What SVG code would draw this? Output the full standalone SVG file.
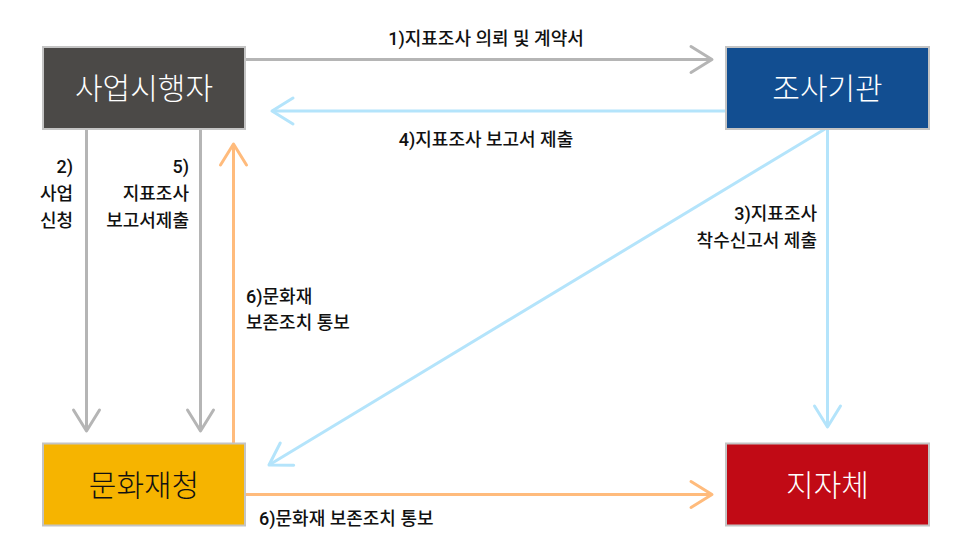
<svg xmlns="http://www.w3.org/2000/svg" width="971" height="556" viewBox="0 0 971 556">
<style>
.node{stroke:#c4c4c4;stroke-width:2}
.nt{font-family:"Noto Sans CJK KR","Noto Sans",sans-serif;font-size:30px;font-weight:300;text-anchor:middle}
.lb{font-family:Roboto,"Noto Sans CJK KR","Noto Sans",sans-serif;font-size:18px;font-weight:500;fill:#111}
.r{text-anchor:end}
.m{text-anchor:middle}
.ln{fill:none;stroke-width:3}
.gray{stroke:#b5b5b5}
.blue{stroke:#b4e4fb}
.orange{stroke:#ffbb7c}
</style>
<defs>
<marker id="ag" markerUnits="userSpaceOnUse" viewBox="-26 -16 30 32" refX="0" refY="0" markerWidth="30" markerHeight="32" orient="auto"><path d="M-21,-13 L0,0 L-21,13" fill="none" stroke="#b5b5b5" stroke-width="3" stroke-linecap="round" stroke-linejoin="round"/></marker>
<marker id="ab" markerUnits="userSpaceOnUse" viewBox="-26 -16 30 32" refX="0" refY="0" markerWidth="30" markerHeight="32" orient="auto"><path d="M-21,-13 L0,0 L-21,13" fill="none" stroke="#b4e4fb" stroke-width="3" stroke-linecap="round" stroke-linejoin="round"/></marker>
<marker id="ao" markerUnits="userSpaceOnUse" viewBox="-26 -16 30 32" refX="0" refY="0" markerWidth="30" markerHeight="32" orient="auto"><path d="M-21,-13 L0,0 L-21,13" fill="none" stroke="#ffbb7c" stroke-width="3" stroke-linecap="round" stroke-linejoin="round"/></marker>
</defs>
<rect width="971" height="556" fill="#ffffff"/>
<g id="connectors">
<line class="ln gray" x1="245" y1="59.5" x2="712" y2="59.5" marker-end="url(#ag)"/>
<line class="ln blue" x1="726" y1="111" x2="272" y2="111" marker-end="url(#ab)"/>
<line class="ln gray" x1="86.5" y1="129" x2="86.5" y2="431" marker-end="url(#ag)"/>
<line class="ln gray" x1="200.5" y1="129" x2="200.5" y2="431" marker-end="url(#ag)"/>
<line class="ln orange" x1="233.5" y1="443" x2="233.5" y2="144" marker-end="url(#ao)"/>
<line class="ln blue" x1="825" y1="129" x2="269" y2="465" marker-end="url(#ab)"/>
<line class="ln blue" x1="827.5" y1="129" x2="827.5" y2="427" marker-end="url(#ab)"/>
<line class="ln orange" x1="245" y1="494.5" x2="712" y2="494.5" marker-end="url(#ao)"/>
<text class="lb m" x="486" y="45">1)지표조사 의뢰 및 계약서</text>
<text class="lb m" x="486" y="146">4)지표조사 보고서 제출</text>
<text class="lb r" x="73" y="173">2)</text>
<text class="lb r" x="73" y="200">사업</text>
<text class="lb r" x="73" y="227">신청</text>
<text class="lb r" x="189" y="173">5)</text>
<text class="lb r" x="189" y="200">지표조사</text>
<text class="lb r" x="189" y="227">보고서제출</text>
<text class="lb" x="246" y="303">6)문화재</text>
<text class="lb" x="246" y="329">보존조치 통보</text>
<text class="lb r" x="817" y="220">3)지표조사</text>
<text class="lb r" x="817" y="247">착수신고서 제출</text>
<text class="lb" x="259" y="525">6)문화재 보존조치 통보</text>
</g>
<g id="node-saeop">
<rect class="node" x="43" y="47" width="202" height="82" fill="#4b4947"/>
<text class="nt" x="144" y="99" fill="#ffffff">사업시행자</text>
</g>
<g id="node-josa">
<rect class="node" x="726" y="47" width="203" height="82" fill="#124e91"/>
<text class="nt" x="827.5" y="99" fill="#ffffff">조사기관</text>
</g>
<g id="node-munhwa">
<rect class="node" x="43" y="443.5" width="202" height="82" fill="#f6b400"/>
<text class="nt" x="144" y="496" fill="#111111">문화재청</text>
</g>
<g id="node-jijache">
<rect class="node" x="726" y="443.5" width="203" height="82" fill="#c10a15"/>
<text class="nt" x="827.5" y="496" fill="#ffffff">지자체</text>
</g>
</svg>
